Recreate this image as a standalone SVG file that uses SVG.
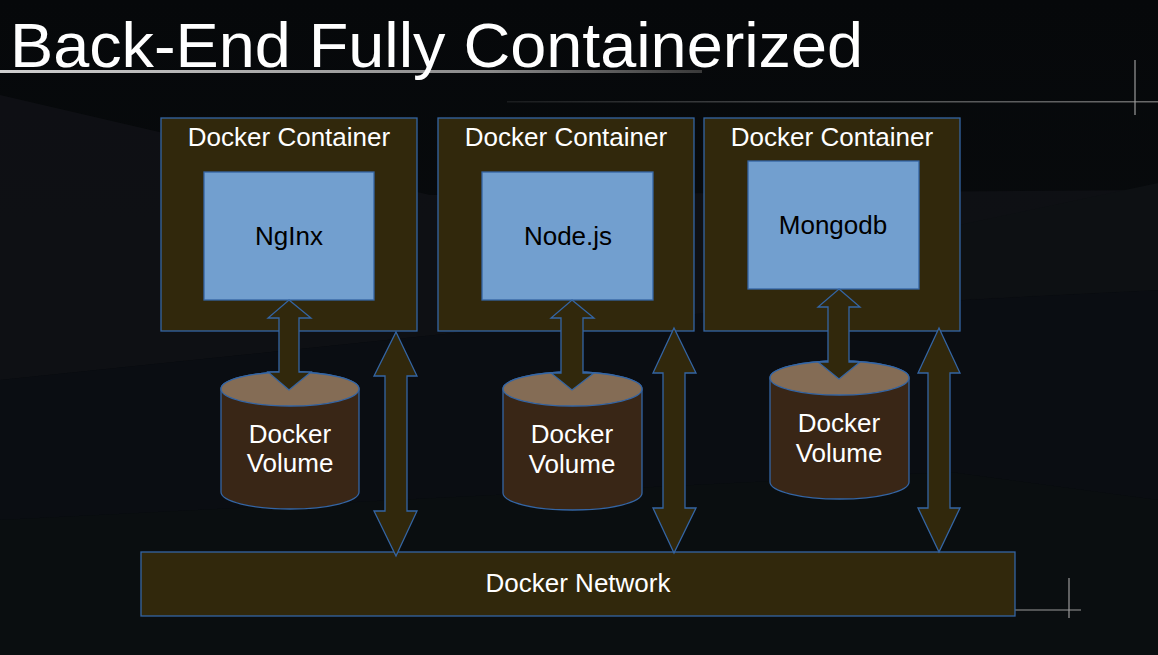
<svg xmlns="http://www.w3.org/2000/svg" width="1158" height="655" viewBox="0 0 1158 655">
<defs>
<linearGradient id="bg" x1="0" y1="0" x2="0" y2="1">
<stop offset="0" stop-color="#06080a"/>
<stop offset="1" stop-color="#0a0e11"/>
</linearGradient>
<linearGradient id="ul" x1="0" y1="0" x2="1" y2="0">
<stop offset="0" stop-color="#d0d0d0"/>
<stop offset="0.7" stop-color="#8a8a8a"/>
<stop offset="1" stop-color="#3a3a3a"/>
</linearGradient>
<linearGradient id="ul2" x1="0" y1="0" x2="1" y2="0">
<stop offset="0" stop-color="#1a1c1e"/>
<stop offset="0.5" stop-color="#4a4c4e"/>
<stop offset="1" stop-color="#6a6a6a"/>
</linearGradient>
<style>
.t{font-family:"Liberation Sans",Arial,sans-serif}
.box{fill:#31280c;stroke:#3465a4;stroke-width:1.3}
.svc{fill:#729fcf;stroke:#3465a4;stroke-width:1.3}
.arr{fill:#31280c;stroke:#3465a4;stroke-width:1.3;stroke-linejoin:miter}
.cylb{fill:#392616;stroke:#3465a4;stroke-width:1.3}
.cylt{fill:#846c55;stroke:#3465a4;stroke-width:1.3}
.wt{fill:#ffffff;font-size:26px;text-anchor:middle}
.bt{fill:#000000;font-size:26px;text-anchor:middle}
.deco{stroke:#9a9a9a;stroke-width:1.2;fill:none}
</style>
</defs>
<g id="background">
<rect x="0" y="0" width="1158" height="655" fill="url(#bg)"/>
<polygon points="0,95 430,195 1158,190 1158,290 580,320 0,380" fill="#101115" opacity="0.9"/>
<polygon points="0,380 580,320 1158,290 1158,500 950,472 0,520" fill="#0a0d12"/>
<polygon points="950,227 1158,183 1158,290 950,300" fill="#0d1013"/>
<polygon points="0,520 950,472 1158,500 1158,655 0,655" fill="#0a0e10"/>
<rect x="0" y="70" width="702" height="3" fill="url(#ul)"/>
<rect x="507" y="101" width="651" height="1.5" fill="url(#ul2)"/>
<line class="deco" x1="1135" y1="60" x2="1135" y2="115"/>
<line class="deco" x1="1015" y1="610" x2="1081" y2="610"/>
<line class="deco" x1="1069" y1="578" x2="1069" y2="618"/>
</g>
<text id="title" class="t" x="10" y="67" font-size="63" fill="#ffffff" textLength="853" lengthAdjust="spacingAndGlyphs">Back-End Fully Containerized</text>
<g id="container-nginx">
<rect class="box" x="161" y="118" width="256" height="213"/>
<text class="t wt" x="289" y="146">Docker Container</text>
</g>
<g id="nginx">
<rect class="svc" x="204" y="172" width="170" height="128"/>
<text class="t bt" x="289" y="245">NgInx</text>
</g>
<g id="container-node">
<rect class="box" x="438" y="118" width="256" height="213"/>
<text class="t wt" x="566" y="146">Docker Container</text>
</g>
<g id="nodejs">
<rect class="svc" x="482" y="172" width="171" height="128"/>
<text class="t bt" x="568" y="245">Node.js</text>
</g>
<g id="container-mongo">
<rect class="box" x="704" y="118" width="256" height="213"/>
<text class="t wt" x="832" y="146">Docker Container</text>
</g>
<g id="mongodb">
<rect class="svc" x="748" y="161" width="171" height="128"/>
<text class="t bt" x="833" y="234">Mongodb</text>
</g>
<g id="volume-nginx">
<path class="cylb" d="M221,389 A69,17 0 0 1 359,389 L359,492 A69,17 0 0 1 221,492 Z"/>
<ellipse class="cylt" cx="290" cy="389" rx="69" ry="17"/>
<text class="t wt" x="290" y="443">Docker</text>
<text class="t wt" x="290" y="472">Volume</text>
</g>
<g id="volume-node">
<path class="cylb" d="M503,389 A69.5,17 0 0 1 642,389 L642,493 A69.5,17 0 0 1 503,493 Z"/>
<ellipse class="cylt" cx="572.5" cy="389" rx="69.5" ry="17"/>
<text class="t wt" x="572" y="443">Docker</text>
<text class="t wt" x="572" y="473">Volume</text>
</g>
<g id="volume-mongo">
<path class="cylb" d="M770,378 A69.5,17 0 0 1 909,378 L909,482 A69.5,17 0 0 1 770,482 Z"/>
<ellipse class="cylt" cx="839.5" cy="378" rx="69.5" ry="17"/>
<text class="t wt" x="839" y="432">Docker</text>
<text class="t wt" x="839" y="462">Volume</text>
</g>
<g id="docker-network">
<rect class="box" x="141" y="552" width="874" height="64"/>
<text class="t wt" x="578" y="592">Docker Network</text>
</g>
<g id="connectors">
<polygon class="arr" points="289,300 311,318 299,318 299,372 311,372 289,390 268,372 279,372 279,318 268,318"/>
<polygon class="arr" points="572,300 594,318 583,318 583,373 594,373 572,390 551,373 561,373 561,318 551,318"/>
<polygon class="arr" points="839,289 860,307 849,307 849,362 860,362 839,379 818,362 828,362 828,307 818,307"/>
<polygon class="arr" points="396,332 417,376 407,376 407,511 417,511 396,556 374,511 385,511 385,376 374,376"/>
<polygon class="arr" points="674,328 696,373 685,373 685,508 696,508 674,553 653,508 663,508 663,373 653,373"/>
<polygon class="arr" points="939,328 960,373 950,373 950,508 960,508 939,552 918,508 928,508 928,373 918,373"/>
</g>
</svg>
